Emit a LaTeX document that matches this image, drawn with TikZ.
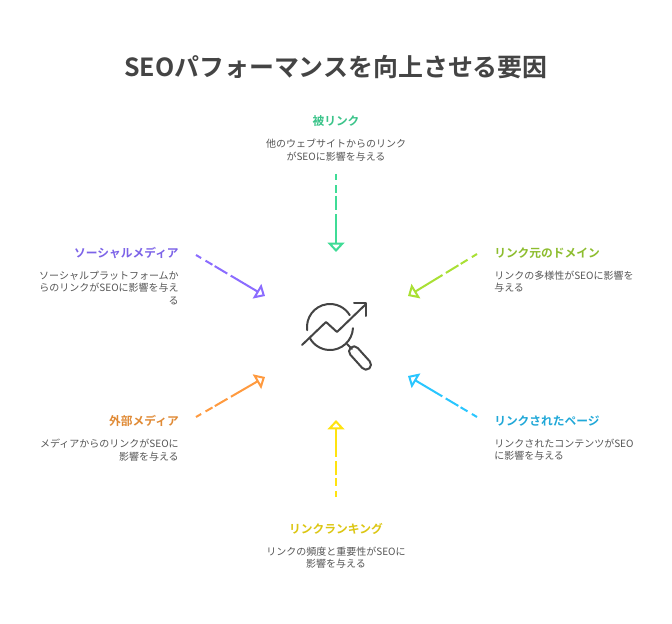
\documentclass[tikz,border=0pt]{standalone}
\usepackage{fontspec}
\usetikzlibrary{arrows.meta}
\setmainfont{Noto Sans CJK JP}
\newfontfamily\jpbold{Noto Sans CJK JP Bold}
\definecolor{ink}{HTML}{444444}
\definecolor{bodyc}{HTML}{555555}
\definecolor{cgreen}{HTML}{3FDC96}\definecolor{hgreen}{HTML}{3BC48A}
\definecolor{cpurple}{HTML}{8B6CFF}\definecolor{hpurple}{HTML}{7C63E8}
\definecolor{clime}{HTML}{A9E034}\definecolor{hlime}{HTML}{8DBD2E}
\definecolor{cblue}{HTML}{29C6FF}\definecolor{hblue}{HTML}{20A8D8}
\definecolor{cyellow}{HTML}{FFE30F}\definecolor{hyellow}{HTML}{DCC612}
\definecolor{corange}{HTML}{FF9A3F}\definecolor{horange}{HTML}{E08A35}
\tikzset{
  titlebox/.style={inner sep=0pt,font=\jpbold\fontsize{18.7pt}{22pt}\selectfont,text=ink},
  headbox/.style={inner sep=0pt,font=\jpbold\fontsize{8.8pt}{11pt}\selectfont},
  bodyc/.style={inner sep=0pt,font=\fontsize{7.5pt}{9.2pt}\selectfont,text=bodyc},
  bodyl/.style={bodyc,align=left,anchor=north west},
  bodyr/.style={bodyc,align=right,anchor=north east},
  bodym/.style={bodyc,align=center,anchor=north},
  link/.style={line width=1.5pt,-{Triangle[open,length=7pt,width=12.5pt,line width=1.5pt]},
    dash pattern=on 4.5pt off 3.8pt on 6pt off 2pt on 11pt off 3pt on 200pt},
  icon/.style={draw=ink,line width=1.5pt,line cap=round,line join=round}
}
\begin{document}
\begin{tikzpicture}[x=0.75pt,y=-0.75pt]
\useasboundingbox (0,0) rectangle (672,624);
\fill[white] (0,0) rectangle (672,624);
\node[titlebox] (title) at (336,67.5) {SEOパフォーマンスを向上させる要因};

\node[headbox,text=hgreen] (h1) at (336,120.7) {被リンク};
\node[bodym] (b1) at (336,139) {他のウェブサイトからのリンク\\がSEOに影響を与える};
\node[headbox,text=hlime,anchor=west] (h2) at (494,253.2) {リンク元のドメイン};
\node[bodyl] (b2) at (494,271) {リンクの多様性がSEOに影響を\\与える};
\node[headbox,text=hblue,anchor=west] (h3) at (494,421.2) {リンクされたページ};
\node[bodyl] (b3) at (494,439) {リンクされたコンテンツがSEO\\に影響を与える};
\node[headbox,text=hyellow] (h4) at (336,528.7) {リンクランキング};
\node[bodym] (b4) at (336,547) {リンクの頻度と重要性がSEOに\\影響を与える};
\node[headbox,text=horange,anchor=east] (h5) at (179,421.2) {外部メディア};
\node[bodyr] (b5) at (179,439) {メディアからのリンクがSEOに\\影響を与える};
\node[headbox,text=hpurple,anchor=east] (h6) at (179,253.2) {ソーシャルメディア};
\node[bodyr] (b6) at (179,271) {ソーシャルプラットフォームか\\らのリンクがSEOに影響を与え\\る};

\coordinate (s1) at (336,174);  \coordinate (t1) at (336,252);
\coordinate (s2) at (477,254);  \coordinate (t2) at (408,296);
\coordinate (s3) at (477,417);  \coordinate (t3) at (408,376);
\coordinate (s4) at (336,497);  \coordinate (t4) at (336,420);
\coordinate (s5) at (196,417);  \coordinate (t5) at (265,377);
\coordinate (s6) at (196,255);  \coordinate (t6) at (265,296);
\draw[link,cgreen] (s1) -- (t1);
\draw[link,clime] (s2) -- (t2);
\draw[link,cblue] (s3) -- (t3);
\draw[link,cyellow] (s4) -- (t4);
\draw[link,corange] (s5) -- (t5);
\draw[link,cpurple] (s6) -- (t6);

% icon
\begin{scope}[shift={(330,327)}]
\draw[icon] (188:17.25pt) arc[start angle=188,end angle=31,radius=17.25pt];
\draw[icon] (-3:17.25pt) arc[start angle=-3,end angle=-151,radius=17.25pt];
\end{scope}
\draw[icon] (302,345) -- (326,322) -- (337,332) -- (366,304);
\draw[icon] (354,303.5) -- (366,303.5) -- (366,316);
\draw[icon] (347,344) -- (352,349);
\draw[icon,rotate around={-48:(360,358)},rounded corners=3.8pt] (346,353) rectangle (374,363);
\end{tikzpicture}
\end{document}
